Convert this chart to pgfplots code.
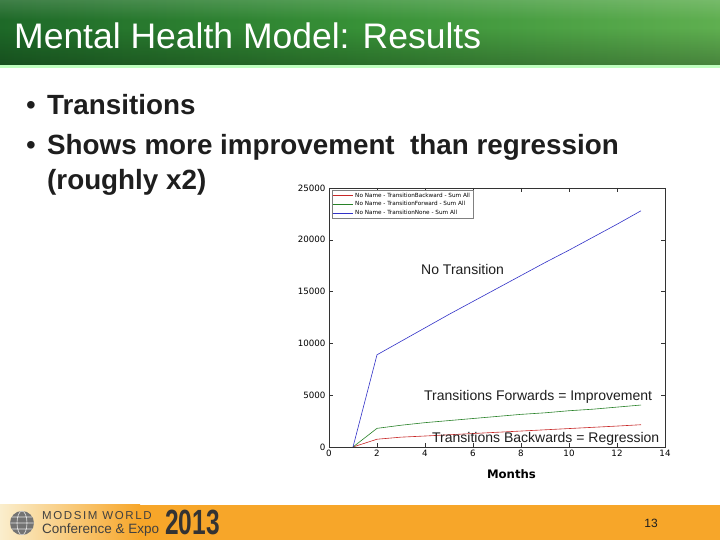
\documentclass[border=0pt]{standalone}
\usepackage{pgfplots}
\pgfplotsset{compat=1.18}
\usepackage{fontspec}
\setmainfont{Liberation Sans}
\newfontfamily\dejavu{DejaVu Sans}
\newfontfamily\narrowbold[FakeStretch=0.7]{Liberation Sans Bold}
\usetikzlibrary{fadings}

\definecolor{hdrdark}{RGB}{30,105,40}
\definecolor{hdrmid}{RGB}{55,145,55}
\definecolor{hdrlight}{RGB}{95,175,80}
\definecolor{footorange}{RGB}{247,166,41}
\definecolor{footcream}{RGB}{250,238,205}
\definecolor{lred}{RGB}{200,40,40}
\definecolor{lgreen}{RGB}{40,130,40}
\definecolor{lblue}{RGB}{50,50,200}
\definecolor{txt}{RGB}{30,30,30}

\begin{document}
\begin{tikzpicture}[x=1pt,y=1pt]
\useasboundingbox (0,0) rectangle (720,540);
\fill[white] (0,0) rectangle (720,540);

% header band
\shade[left color=hdrdark, right color=hdrlight, middle color=hdrmid] (0,474) rectangle (720,540);
\fill[black, opacity=0.25, path fading=north] (0,474) rectangle (720,512);
\fill[white, opacity=0.15, path fading=south] (0,520) rectangle (720,540);
\fill[green!25!white] (0,472) rectangle (720,474.5);
\node[anchor=base west, inner sep=0, text=white, font=\fontsize{35.5}{40}\selectfont] at (14,491) {Mental Health Model: Results};

% bullets
\begin{scope}[every node/.style={anchor=base west, inner sep=0, text=txt, font=\fontsize{27.8}{32}\selectfont\bfseries}]
  \node at (26,425) {\mdseries •};
  \node at (47,425) {Transitions};
  \node at (26,385) {\mdseries •};
  \node at (47,385) {Shows more improvement\ \ than regression};
  \node at (47,350) {(roughly x2)};
\end{scope}

% chart
\begin{axis}[
  at={(329pt,93pt)}, anchor=south west,
  scale only axis, width=336pt, height=259pt,
  xmin=0, xmax=14, ymin=0, ymax=25000,
  xtick={0,2,...,14}, ytick={0,5000,...,25000},
  scaled y ticks=false,
  /pgf/number format/assume math mode=true,
  /pgf/number format/1000 sep={},
  tick label style={font=\dejavu\fontsize{8.7}{10}\selectfont},
  axis line style={black!80, line width=0.6pt},
  major tick length=4pt,
  tick style={black!80, line width=0.5pt},
  legend style={at={(0.008,0.993)}, anchor=north west, draw=black!50, line width=0.3pt,
    font=\dejavu\fontsize{5.7}{6}\selectfont, inner sep=0.8pt, row sep=-1.2pt},
  legend cell align=left,
  legend image code/.code={\draw[#1, line width=0.6pt] (0pt,0pt) -- (20pt,0pt);},
]
\addplot[lred, line width=0.6pt] coordinates {
  (1,0) (2,750) (3,950) (4,1060) (5,1180) (6,1300) (7,1420)
  (8,1540) (9,1660) (10,1780) (11,1900) (12,2020) (13,2150)};
\addplot[lgreen, line width=0.6pt] coordinates {
  (1,0) (2,1800) (3,2100) (4,2350) (5,2550) (6,2750) (7,2950)
  (8,3150) (9,3300) (10,3500) (11,3650) (12,3850) (13,4050)};
\addplot[lblue, line width=0.6pt] coordinates {
  (1,0) (2,8900) (3,10200) (4,11500) (5,12800) (6,14050) (7,15300)
  (8,16550) (9,17800) (10,19000) (11,20250) (12,21500) (13,22800)};
\legend{No Name - TransitionBackward - Sum All,
        No Name - TransitionForward - Sum All,
        No Name - TransitionNone - Sum All}
\end{axis}

% annotations
\begin{scope}[every node/.style={anchor=base west, inner sep=0, text=txt, font=\fontsize{14}{16}\selectfont}]
  \node at (421,265) {No Transition};
  \node at (424,139) {Transitions Forwards = Improvement};
  \node at (432,97) {Transitions Backwards = Regression};
\end{scope}
\node[anchor=base, inner sep=0, font=\dejavu\bfseries\fontsize{11.7}{13}\selectfont] at (511.5,61) {Months};

% footer
\fill[footorange] (0,0) rectangle (720,35);
\shade[left color=footcream, right color=footorange] (0,0) rectangle (140,35);
\fill[black!55] (22,17) circle (12);
\draw[white!80!gray, line width=0.6pt] (22,17) ellipse (5 and 12) (10,17) -- (34,17) (12,11) -- (32,11) (12,23) -- (32,23);
\node[anchor=base west, inner sep=0, text=black!75, font=\fontsize{11.5}{13}\selectfont\addfontfeature{LetterSpace=14}] at (42,20) {MODSIM WORLD};
\node[anchor=base west, inner sep=0, text=black!75, font=\fontsize{13.5}{15}\selectfont] at (42,6) {Conference \& Expo};
\node[anchor=base west, inner sep=0, text=black!80, font=\narrowbold\fontsize{35}{38}\selectfont] at (165,5) {2013};
\node[anchor=base, inner sep=0, text=txt, font=\fontsize{12}{14}\selectfont] at (651,12) {13};
\end{tikzpicture}
\end{document}
